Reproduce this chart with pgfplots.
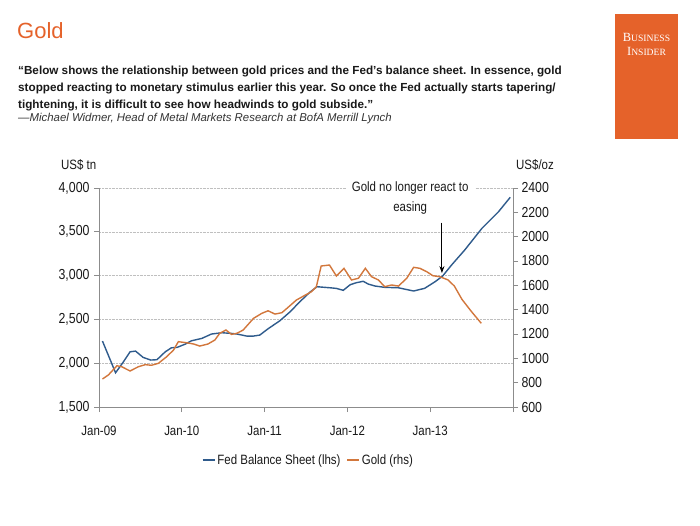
\documentclass[border=0pt]{standalone}
\usepackage{fontspec}
\setmainfont{Liberation Sans}
\newfontfamily\nar[FakeStretch=0.85]{Liberation Sans}
\newfontfamily\biserif{Liberation Serif}
\usepackage{pgfplots}
\pgfplotsset{compat=1.18}
\usetikzlibrary{arrows.meta}
\definecolor{biorange}{HTML}{E5622A}
\definecolor{fedblue}{HTML}{2F5B8C}
\definecolor{goldline}{HTML}{D2773C}
\definecolor{axgray}{HTML}{8C8C8C}

\pgfplotstableread{
m v
0.5 2253
2.4 1891
3.4 2000
4.5 2130
5.3 2138
6.4 2066
7.5 2036
8.4 2040
9.6 2130
10.5 2176
11.3 2180
12.5 2218
13.4 2256
14.9 2283
16.3 2333
17.8 2348
19.2 2340
20.0 2333
21.4 2310
22.4 2310
23.3 2321
24.5 2393
26.2 2484
27.7 2587
29.1 2701
30.6 2813
31.6 2873
33.5 2861
34.4 2854
35.4 2832
36.4 2896
37.3 2919
38.3 2935
39.0 2904
40.0 2881
41.4 2866
43.4 2861
45.6 2824
47.2 2855
48.7 2930
49.8 2995
51.1 3121
53.0 3292
55.5 3540
57.9 3729
59.6 3894
}\fedtable

\pgfplotstableread{
m v
0.5 830
1.35 863
2.6 939
3.3 931
4.5 896
5.7 931
6.7 948
7.6 943
8.6 959
9.8 1013
10.8 1068
11.5 1137
12.7 1128
13.7 1118
14.6 1101
15.8 1118
16.8 1151
17.5 1206
18.4 1233
19.2 1197
20.0 1206
20.9 1233
22.4 1329
23.6 1370
24.5 1391
25.5 1364
26.5 1375
27.4 1419
28.6 1479
29.9 1520
30.8 1548
31.5 1589
32.2 1759
33.4 1767
34.4 1677
35.5 1740
36.6 1644
37.6 1658
38.6 1740
39.5 1671
40.5 1644
41.4 1589
42.4 1603
43.4 1594
44.6 1658
45.6 1748
46.5 1740
47.5 1712
48.4 1679
49.4 1671
50.6 1644
51.5 1594
52.6 1485
54.0 1383
55.4 1288
}\goldtable

\begin{document}
\begin{tikzpicture}
\fill[white] (0pt,0pt) rectangle (700pt,-525pt);
\path[use as bounding box] (0pt,0pt) rectangle (700pt,-525pt);
% Business Insider box
\fill[biorange] (615pt,-14pt) rectangle (678pt,-139pt);
\node[text=white, inner sep=0pt] at (646.5pt,-37pt) {\biserif\fontsize{12.5}{12.5}\selectfont B\fontsize{9.6}{9.6}\selectfont USINESS};
\node[text=white, inner sep=0pt] at (646.5pt,-51pt) {\biserif\fontsize{12.5}{12.5}\selectfont I\fontsize{9.6}{9.6}\selectfont NSIDER};
% Title
\node[anchor=base west, inner sep=0pt, text=biorange, font=\fontsize{22}{22}\selectfont] at (17pt,-38pt) {Gold};
% Quote
\begin{scope}[every node/.style={anchor=base west, inner sep=0pt, text=black!90, font=\bfseries\fontsize{11.7}{12}\selectfont}]
\node at (18pt,-74pt) {“Below shows the relationship between gold prices and the Fed's balance sheet. In essence, gold};
\node at (18pt,-91pt) {stopped reacting to monetary stimulus earlier this year. So once the Fed actually starts tapering/};
\node at (18pt,-108pt) {tightening, it is difficult to see how headwinds to gold subside.”};
\end{scope}
\node[anchor=base west, inner sep=0pt, text=black!80, font=\itshape\fontsize{11.4}{12}\selectfont] at (18pt,-121pt) {---Michael Widmer, Head of Metal Markets Research at BofA Merrill Lynch};

\begin{axis}[
  at={(99pt,-407pt)}, anchor=south west, scale only axis,
  width=414pt, height=219pt,
  xmin=0, xmax=60, ymin=1500, ymax=4000,
  axis x line*=bottom, axis y line*=left,
  axis line style={axgray, line width=0.8pt, -},
  tick style={axgray, line width=0.8pt},
  tick align=outside, major tick length=5pt,
  xtick={0,12,24,36,48,60},
  xticklabels={Jan-09,Jan-10,Jan-11,Jan-12,Jan-13,},
  ytick={1500,2000,2500,3000,3500,4000},
  scaled ticks=false,
  ymajorgrids, grid style={densely dotted, black!25, line width=0.6pt},
  ticklabel style={font=\nar\fontsize{13.5}{14}\selectfont, text=black!90},
  yticklabel style={font=\nar\fontsize{14.5}{15}\selectfont, xshift=-1pt},
  /pgf/number format/assume math mode=true,
  /pgf/number format/1000 sep={,},
  xticklabel style={yshift=-11pt},
  clip=false,
]
\addplot[fedblue, line width=1.4pt] table[x=m, y=v] {\fedtable};
\node[font=\nar\fontsize{13.5}{20}\selectfont, align=center, text=black!90, fill=white, inner xsep=6pt, inner ysep=1pt] at (axis cs:45.1,3886) {Gold no longer react to\\easing};
\draw[-{Stealth[length=7pt,width=5pt]}, line width=0.9pt] (axis cs:49.7,3604) -- (axis cs:49.7,3029);
\end{axis}

\begin{axis}[
  at={(99pt,-407pt)}, anchor=south west, scale only axis,
  width=414pt, height=219pt,
  xmin=0, xmax=60, ymin=600, ymax=2400,
  axis y line*=right, axis x line=none,
  axis line style={axgray, line width=0.8pt, -},
  tick style={axgray, line width=0.8pt},
  tick align=outside, major tick length=5pt,
  ytick={600,800,...,2400},
  scaled ticks=false,
  ticklabel style={font=\nar\fontsize{14.5}{15}\selectfont, text=black!90},
  /pgf/number format/assume math mode=true,
  /pgf/number format/1000 sep={},
  legend columns=2,
  legend style={draw=none, fill=none, at={(0.506,-0.242)}, anchor=center,
    font=\nar\fontsize{13.5}{14}\selectfont, text=black!90,
    /tikz/every even column/.append style={column sep=4pt}},
  legend image code/.code={\draw[#1] (0pt,0pt) -- (12pt,0pt);},
  clip=false,
]
\addlegendimage{fedblue, line width=1.4pt}
\addlegendentry{Fed Balance Sheet (lhs)}
\addplot[goldline, line width=1.4pt] table[x=m, y=v] {\goldtable};
\addlegendentry{Gold (rhs)}
\end{axis}

\node[anchor=west, inner sep=0pt, font=\nar\fontsize{13.5}{14}\selectfont, text=black!90] at (61pt,-165pt) {US\$ tn};
\node[anchor=west, inner sep=0pt, font=\nar\fontsize{13.5}{14}\selectfont, text=black!90] at (516pt,-165pt) {US\$/oz};
\end{tikzpicture}
\end{document}
